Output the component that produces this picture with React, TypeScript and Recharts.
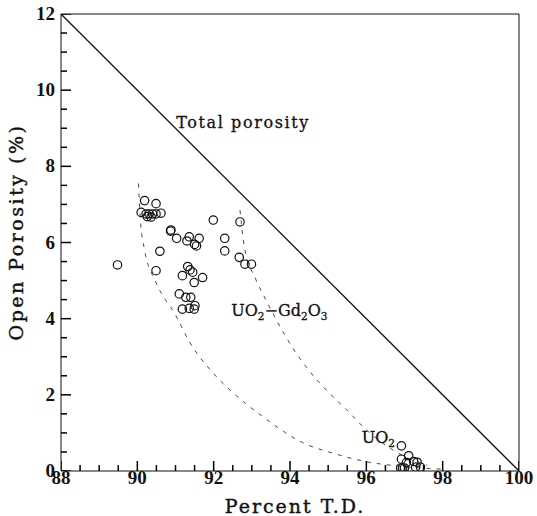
import { ComposedChart, Line, ReferenceDot, ReferenceLine, Scatter, XAxis, YAxis } from 'recharts';

// tick positions (majors get labels, the rest are minor ticks)
const xTicks = [88, 88.5, 89, 89.5, 90, 90.5, 91, 91.5, 92, 92.5, 93, 93.5, 94, 94.5, 95, 95.5, 96, 96.5, 97, 97.5, 98, 98.5, 99, 99.5, 100];
const yTicks = [0, 0.5, 1, 1.5, 2, 2.5, 3, 3.5, 4, 4.5, 5, 5.5, 6, 6.5, 7, 7.5, 8, 8.5, 9, 9.5, 10, 10.5, 11, 11.5, 12];
const xMajor = [88, 90, 92, 94, 96, 98, 100];
const yMajor = [0, 2, 4, 6, 8, 10, 12];

// UO2-Gd2O3 samples
const gdPoints = [
  { x: 90.19, y: 7.1 }, { x: 90.49, y: 7.02 }, { x: 90.1, y: 6.79 }, { x: 90.23, y: 6.75 },
  { x: 90.31, y: 6.75 }, { x: 90.4, y: 6.75 }, { x: 90.49, y: 6.75 }, { x: 90.62, y: 6.77 },
  { x: 90.36, y: 6.67 }, { x: 90.26, y: 6.68 }, { x: 90.88, y: 6.33 }, { x: 90.87, y: 6.3 },
  { x: 91.03, y: 6.11 }, { x: 91.36, y: 6.15 }, { x: 91.3, y: 6.04 }, { x: 91.62, y: 6.11 },
  { x: 91.55, y: 5.91 }, { x: 91.5, y: 5.95 }, { x: 91.99, y: 6.59 }, { x: 92.29, y: 6.11 },
  { x: 92.29, y: 5.78 }, { x: 92.69, y: 6.54 }, { x: 90.59, y: 5.77 }, { x: 89.48, y: 5.41 },
  { x: 90.49, y: 5.26 }, { x: 91.32, y: 5.37 }, { x: 91.18, y: 5.13 }, { x: 91.45, y: 5.22 },
  { x: 91.38, y: 5.28 }, { x: 91.71, y: 5.08 }, { x: 91.49, y: 4.95 }, { x: 91.1, y: 4.65 },
  { x: 91.27, y: 4.56 }, { x: 91.4, y: 4.56 }, { x: 91.18, y: 4.25 }, { x: 91.36, y: 4.27 },
  { x: 91.49, y: 4.25 }, { x: 91.51, y: 4.34 }, { x: 92.67, y: 5.61 }, { x: 92.82, y: 5.43 },
  { x: 92.99, y: 5.43 },
];

// UO2 samples
const uo2Points = [
  { x: 96.92, y: 0.66 }, { x: 97.11, y: 0.4 }, { x: 96.92, y: 0.31 }, { x: 97.24, y: 0.25 },
  { x: 97.33, y: 0.23 }, { x: 97.05, y: 0.22 }, { x: 97.42, y: 0.1 }, { x: 96.9, y: 0.08 },
  { x: 96.95, y: 0.08 }, { x: 97.0, y: 0.08 }, { x: 97.29, y: 0.1 },
];

const totalPorosity = [{ x: 88, y: 12 }, { x: 100, y: 0 }];

const leftCurve = [
  { x: 90.03, y: 7.55 }, { x: 90.08, y: 6.6 }, { x: 90.18, y: 5.85 }, { x: 90.49, y: 4.95 },
  { x: 91.01, y: 4.08 }, { x: 91.36, y: 3.4 }, { x: 91.97, y: 2.59 }, { x: 92.49, y: 2.07 },
  { x: 93.19, y: 1.5 }, { x: 93.5, y: 1.27 }, { x: 94.32, y: 0.75 }, { x: 95.19, y: 0.45 },
  { x: 96.07, y: 0.23 }, { x: 96.76, y: 0.14 }, { x: 97.4, y: 0.08 }, { x: 97.95, y: 0.05 },
];

const rightCurve = [
  { x: 92.69, y: 6.85 }, { x: 92.8, y: 5.91 }, { x: 93.1, y: 5.04 }, { x: 93.36, y: 4.51 },
  { x: 93.63, y: 3.99 }, { x: 94.15, y: 3.11 }, { x: 94.76, y: 2.33 }, { x: 95.46, y: 1.63 },
  { x: 95.98, y: 1.1 }, { x: 96.5, y: 0.68 }, { x: 97.0, y: 0.38 }, { x: 97.6, y: 0.15 },
];

// tick mark anchors on the bottom and left axes
const xTickMarks = xTicks.map((v) => ({ x: v, y: 0 }));
const yTickMarks = yTicks.map((v) => ({ x: 88, y: v }));

const INK = '#111';
const SERIF = '"DejaVu Serif", serif';
const TICK_FONT = '"Liberation Serif", serif';

const XTick = (props: any) =>
  xMajor.includes(props.payload.value) ? (
    <text x={props.x} y={Number(props.y) + 13} textAnchor="middle" fontFamily={TICK_FONT} fontWeight="bold" fontSize={19} fill={INK}>
      {props.payload.value}
    </text>
  ) : (
    <g />
  );

const YTick = (props: any) =>
  yMajor.includes(props.payload.value) ? (
    <text x={Number(props.x) - 6} y={Number(props.y) + 6} textAnchor="end" fontFamily={TICK_FONT} fontWeight="bold" fontSize={19} fill={INK}>
      {props.payload.value}
    </text>
  ) : (
    <g />
  );

const XMark = ({ cx, cy, payload }: any) => (
  <rect x={cx - 0.75} y={cy - (xMajor.includes(payload.x) ? 10 : 6)} width={1.5} height={xMajor.includes(payload.x) ? 10 : 6} fill="#000" />
);

const YMark = ({ cx, cy, payload }: any) => (
  <rect x={cx} y={cy - 0.75} width={yMajor.includes(payload.y) ? 10 : 6} height={1.5} fill="#000" />
);

const Ring = ({ cx, cy }: any) => <circle cx={cx} cy={cy} r={4.2} fill="none" stroke={INK} strokeWidth={1.2} />;

const sub = (t: string) => (
  <tspan dy={4} fontSize={10.5}>{t}</tspan>
);

const App = () => (
  <div style={{ position: 'absolute', left: 0, top: 0, background: '#fff' }}>
    <ComposedChart width={537} height={516} margin={{ top: 14, right: 18, left: 0, bottom: 0 }}>
      <XAxis
        type="number"
        dataKey="x"
        domain={[88, 100]}
        ticks={xTicks}
        interval={0}
        tickSize={0}
        tickMargin={0}
        tickLine={false}
        tick={<XTick />}
        height={45}
        stroke={INK}
        allowDataOverflow
        label={{
          content: ({ viewBox }: any) => (
            <text x={viewBox.x + viewBox.width / 2 + 5} y={viewBox.y + 42} textAnchor="middle" fontFamily={SERIF} fontSize={19} letterSpacing={2} fill={INK} stroke={INK} strokeWidth={0.4}>
              Percent T.D.
            </text>
          ),
        }}
      />
      <YAxis
        type="number"
        dataKey="y"
        domain={[0, 12]}
        ticks={yTicks}
        interval={0}
        tickSize={0}
        tickMargin={0}
        tickLine={false}
        tick={<YTick />}
        width={61}
        stroke={INK}
        allowDataOverflow
        label={{
          content: () => (
            <text x={23} y={232} transform="rotate(-90 23 232)" textAnchor="middle" fontFamily={SERIF} fontSize={19} letterSpacing={2.5} fill={INK} stroke={INK} strokeWidth={0.4}>
              Open Porosity (%)
            </text>
          ),
        }}
      />
      <ReferenceLine y={12} stroke={INK} strokeWidth={1} />
      <ReferenceLine x={100} stroke={INK} strokeWidth={1} />
      <Scatter data={xTickMarks} dataKey="y" shape={<XMark />} isAnimationActive={false} />
      <Scatter data={yTickMarks} dataKey="y" shape={<YMark />} isAnimationActive={false} />
      <Line data={totalPorosity} dataKey="y" type="linear" stroke={INK} strokeWidth={1.3} dot={false} isAnimationActive={false} />
      <Line data={leftCurve} dataKey="y" type="monotone" stroke="#333" strokeWidth={0.9} strokeDasharray="4 6" dot={false} isAnimationActive={false} />
      <Line data={rightCurve} dataKey="y" type="monotone" stroke="#333" strokeWidth={0.9} strokeDasharray="4 6" dot={false} isAnimationActive={false} />
      <Scatter data={gdPoints} dataKey="y" shape={<Ring />} isAnimationActive={false} />
      <Scatter data={uo2Points} dataKey="y" shape={<Ring />} isAnimationActive={false} />
      <ReferenceDot
        x={91.02}
        y={9.13}
        r={0}
        shape={({ cx, cy }: any) => (
          <text x={cx} y={cy + 5} fontFamily={SERIF} fontSize={16} letterSpacing={1.6} fill={INK} stroke={INK} strokeWidth={0.3}>
            Total porosity
          </text>
        )}
      />
      <ReferenceDot
        x={92.46}
        y={4.19}
        r={0}
        shape={({ cx, cy }: any) => (
          <text x={cx} y={cy + 5} fontFamily={SERIF} fontSize={16} fill={INK} stroke={INK} strokeWidth={0.3}>
            UO{sub('2')}
            <tspan dy={-4}>−Gd</tspan>
            {sub('2')}
            <tspan dy={-4}>O</tspan>
            {sub('3')}
          </text>
        )}
      />
      <ReferenceDot
        x={95.88}
        y={0.87}
        r={0}
        shape={({ cx, cy }: any) => (
          <text x={cx} y={cy + 5} fontFamily={SERIF} fontSize={16} fill={INK} stroke={INK} strokeWidth={0.3}>
            UO{sub('2')}
          </text>
        )}
      />
    </ComposedChart>
  </div>
);

export default App;
